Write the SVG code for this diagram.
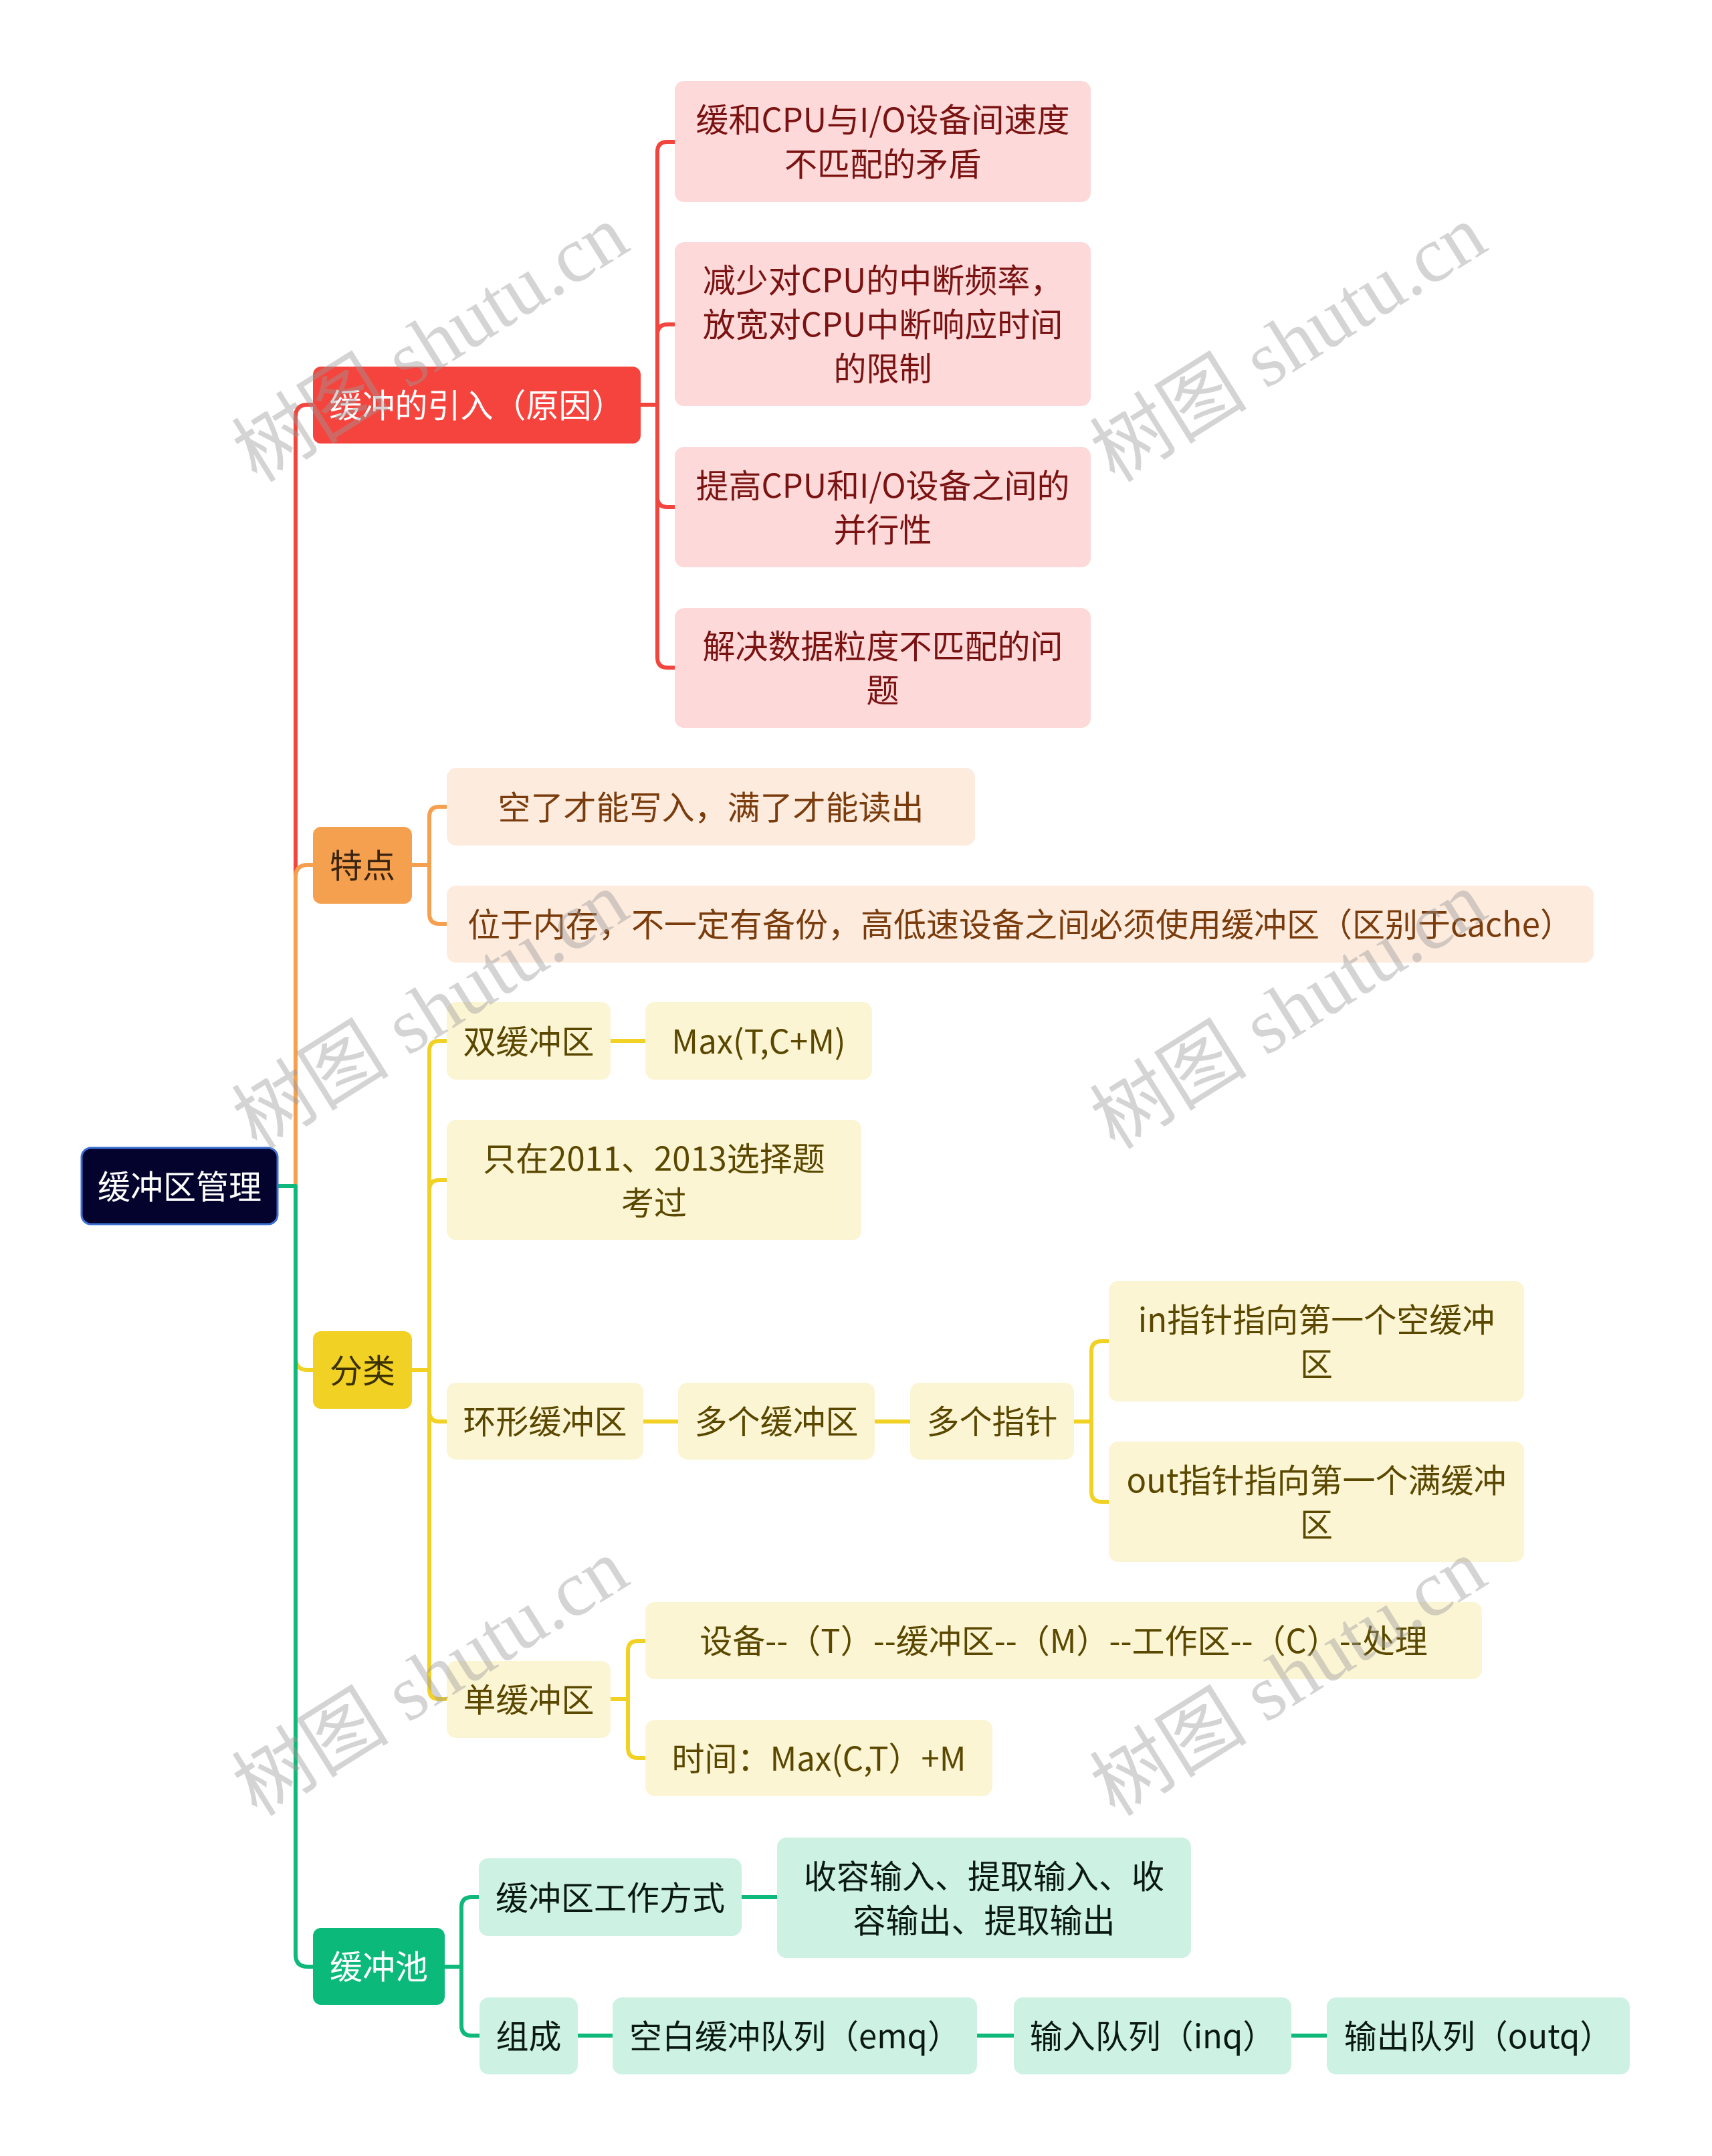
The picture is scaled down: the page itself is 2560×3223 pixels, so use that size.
<svg xmlns="http://www.w3.org/2000/svg" width="2560" height="3223" viewBox="0 0 2560 3223">
<style>
text{font-family:"Noto Sans CJK SC","Noto Sans",sans-serif;font-size:49px;text-anchor:middle;dominant-baseline:central}
.c{fill:none;stroke-width:6;stroke-linecap:round;stroke-linejoin:round}
.cr{stroke:#f2453e}.co{stroke:#f5a04e}.cy{stroke:#f1d124}.cg{stroke:#0fb97b}
.nr{fill:#fdd9d9}.tr{fill:#7a1212}
.no{fill:#fdebde}.to{fill:#7a3c0c}
.ny{fill:#fcf5d4}.ty{fill:#5a4800}
.ng{fill:#cdf1e2}.tg{fill:#0a1a12}
.wm{font-family:"Liberation Serif","Noto Sans CJK SC",serif;font-size:118px;fill:#9a9a9a;opacity:0.42}
</style>
<rect width="2560" height="3223" fill="#ffffff"/>
<g id="connectors">
<path class="c cr" d="M415,1773 H442 V623 Q442,605 460,605 H468"/>
<path class="c co" d="M415,1773 H442 V1311 Q442,1293 460,1293 H468"/>
<path class="c cy" d="M415,1773 H442 V2030 Q442,2048 460,2048 H468"/>
<path class="c cg" d="M415,1773 H442 V2922 Q442,2940 460,2940 H468"/>
<path class="c cr" d="M958,605 H983 M983,605 V227 Q983,212 998,212 H1009 M983,605 V500 Q983,485 998,485 H1009 M983,605 V743 Q983,758 998,758 H1009 M983,605 V983 Q983,998 998,998 H1009"/>
<path class="c co" d="M616,1293 H642 M642,1293 V1221 Q642,1206 657,1206 H668 M642,1293 V1366 Q642,1381 657,1381 H668"/>
<path class="c cy" d="M616,2048 H642 M642,2048 V1571 Q642,1556 657,1556 H668 M642,2048 V1779 Q642,1764 657,1764 H668 M642,2048 V2110 Q642,2125 657,2125 H668 M642,2048 V2525 Q642,2540 657,2540 H668"/>
<path class="c cy" d="M913,1556 H965 M962,2125 H1014 M1308,2125 H1361"/>
<path class="c cy" d="M1606,2125 H1632 M1632,2125 V2020 Q1632,2005 1647,2005 H1658 M1632,2125 V2230 Q1632,2245 1647,2245 H1658"/>
<path class="c cy" d="M913,2540 H939 M939,2540 V2468 Q939,2453 954,2453 H965 M939,2540 V2613 Q939,2628 954,2628 H965"/>
<path class="c cg" d="M665,2940 H690 M690,2940 V2851 Q690,2836 705,2836 H716 M690,2940 V3028 Q690,3043 705,3043 H717"/>
<path class="c cg" d="M1109,2836 H1162 M864,3043 H916 M1461,3043 H1516 M1931,3043 H1984"/>
</g>
<g id="root"><rect x="122" y="1716" width="293" height="114" rx="14" fill="#03032d" stroke="#3d70d2" stroke-width="3"/><text x="268.5" y="1770" fill="#ffffff">缓冲区管理</text></g>
<g id="n-red"><rect x="468" y="548" width="490" height="115" rx="12" fill="#f5443e"/><text x="713" y="602.5" fill="#ffffff">缓冲的引入（原因）</text></g>
<g id="r1"><rect class="nr" x="1009" y="121" width="622" height="181" rx="14"/><text class="tr" x="1320" y="175.5">缓和CPU与I/O设备间速度</text><text class="tr" x="1320" y="241.5">不匹配的矛盾</text></g>
<g id="r2"><rect class="nr" x="1009" y="362" width="622" height="245" rx="14"/><text class="tr" x="1320" y="415.5">减少对CPU的中断频率，</text><text class="tr" x="1320" y="481.5">放宽对CPU中断响应时间</text><text class="tr" x="1320" y="547.5">的限制</text></g>
<g id="r3"><rect class="nr" x="1009" y="668" width="622" height="180" rx="14"/><text class="tr" x="1320" y="722">提高CPU和I/O设备之间的</text><text class="tr" x="1320" y="788">并行性</text></g>
<g id="r4"><rect class="nr" x="1009" y="909" width="622" height="179" rx="14"/><text class="tr" x="1320" y="962.5">解决数据粒度不匹配的问</text><text class="tr" x="1320" y="1028.5">题</text></g>
<g id="n-orange"><rect x="468" y="1236" width="148" height="115" rx="12" fill="#f5a04e"/><text x="542" y="1290.5" fill="#3a2410">特点</text></g>
<g id="o1"><rect class="no" x="668" y="1148" width="790" height="116" rx="14"/><text class="to" x="1063" y="1203">空了才能写入，满了才能读出</text></g>
<g id="o2"><rect class="no" x="668" y="1324" width="1715" height="115" rx="14"/><text class="to" x="1525.5" y="1378.5">位于内存，不一定有备份，高低速设备之间必须使用缓冲区（区别于cache）</text></g>
<g id="n-yellow"><rect x="468" y="1990" width="148" height="116" rx="12" fill="#f1d124"/><text x="542" y="2045" fill="#3a3000">分类</text></g>
<g id="y1"><rect class="ny" x="668" y="1498" width="245" height="116" rx="14"/><text class="ty" x="790.5" y="1553">双缓冲区</text></g>
<g id="y1a"><rect class="ny" x="965" y="1498" width="339" height="116" rx="14"/><text class="ty" x="1134.5" y="1553">Max(T,C+M)</text></g>
<g id="y2"><rect class="ny" x="668" y="1674" width="620" height="180" rx="14"/><text class="ty" x="978" y="1728">只在2011、2013选择题</text><text class="ty" x="978" y="1794">考过</text></g>
<g id="y3"><rect class="ny" x="668" y="2067" width="294" height="115" rx="14"/><text class="ty" x="815" y="2121.5">环形缓冲区</text></g>
<g id="y3a"><rect class="ny" x="1014" y="2067" width="294" height="115" rx="14"/><text class="ty" x="1161" y="2121.5">多个缓冲区</text></g>
<g id="y3b"><rect class="ny" x="1361" y="2067" width="245" height="115" rx="14"/><text class="ty" x="1483.5" y="2121.5">多个指针</text></g>
<g id="y3c"><rect class="ny" x="1658" y="1915" width="621" height="180" rx="14"/><text class="ty" x="1968.5" y="1969">in指针指向第一个空缓冲</text><text class="ty" x="1968.5" y="2035">区</text></g>
<g id="y3d"><rect class="ny" x="1658" y="2155" width="621" height="180" rx="14"/><text class="ty" x="1968.5" y="2209">out指针指向第一个满缓冲</text><text class="ty" x="1968.5" y="2275">区</text></g>
<g id="y4"><rect class="ny" x="668" y="2483" width="245" height="115" rx="14"/><text class="ty" x="790.5" y="2537.5">单缓冲区</text></g>
<g id="y4a"><rect class="ny" x="965" y="2395" width="1251" height="115" rx="14"/><text class="ty" x="1590.5" y="2449.5">设备--（T）--缓冲区--（M）--工作区--（C）--处理</text></g>
<g id="y4b"><rect class="ny" x="965" y="2571" width="519" height="114" rx="14"/><text class="ty" x="1224.5" y="2625">时间：Max(C,T）+M</text></g>
<g id="n-green"><rect x="468" y="2882" width="197" height="115" rx="12" fill="#0bb97a"/><text x="566.5" y="2936.5" fill="#ffffff">缓冲池</text></g>
<g id="g1"><rect class="ng" x="716" y="2778" width="393" height="116" rx="14"/><text class="tg" x="912.5" y="2833">缓冲区工作方式</text></g>
<g id="g1a"><rect class="ng" x="1162" y="2747" width="619" height="180" rx="14"/><text class="tg" x="1471.5" y="2801">收容输入、提取输入、收</text><text class="tg" x="1471.5" y="2867">容输出、提取输出</text></g>
<g id="g2"><rect class="ng" x="717" y="2986" width="147" height="115" rx="14"/><text class="tg" x="790.5" y="3040.5">组成</text></g>
<g id="g2a"><rect class="ng" x="916" y="2986" width="545" height="115" rx="14"/><text class="tg" x="1188.5" y="3040.5">空白缓冲队列（emq）</text></g>
<g id="g2b"><rect class="ng" x="1516" y="2986" width="415" height="115" rx="14"/><text class="tg" x="1723.5" y="3040.5">输入队列（inq）</text></g>
<g id="g2c"><rect class="ng" x="1984" y="2986" width="453" height="115" rx="14"/><text class="tg" x="2210.5" y="3040.5">输出队列（outq）</text></g>
<g id="watermarks">
<text class="wm" transform="translate(644,514) rotate(-32)">树图 shutu.cn</text>
<text class="wm" transform="translate(1927,514) rotate(-32)">树图 shutu.cn</text>
<text class="wm" transform="translate(644,1511) rotate(-32)">树图 shutu.cn</text>
<text class="wm" transform="translate(1927,1511) rotate(-32)">树图 shutu.cn</text>
<text class="wm" transform="translate(644,2508) rotate(-32)">树图 shutu.cn</text>
<text class="wm" transform="translate(1927,2508) rotate(-32)">树图 shutu.cn</text>
</g>
</svg>
